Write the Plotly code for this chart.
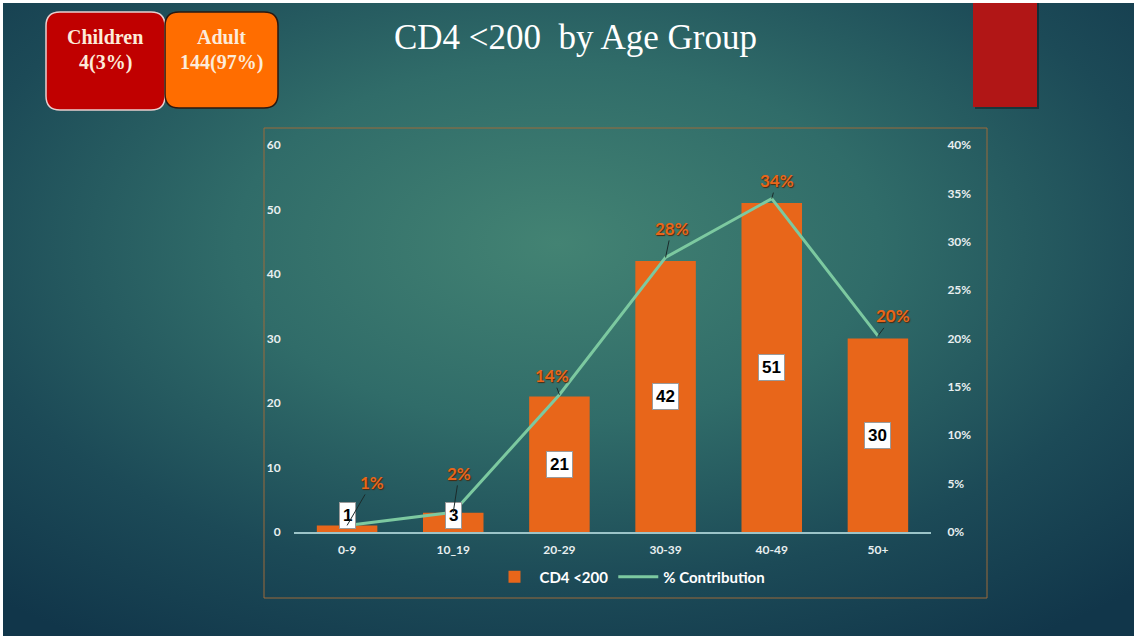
import base64
import plotly.graph_objects as go

# data
age_groups = ["0-9", "10_19", "20-29", "30-39", "40-49", "50+"]
cd4_counts = [1, 3, 21, 42, 51, 30]
pct_contribution = [0.0068, 0.0203, 0.1419, 0.2838, 0.3446, 0.2027]
pct_labels = ["1%", "2%", "14%", "28%", "34%", "20%"]
summary_titles = ["Children", "Adult"]
summary_values = ["4(3%)", "144(97%)"]

W, H = 1134, 639
BAR_COLOR = "#E8661A"
LINE_COLOR = "#7CC9A0"
TICK_FONT = dict(family="Lato", size=12, color="#E9EFF0", weight="bold")


def px(x):
    return x / W


def py(y):
    return 1 - y / H


def rounded_rect(x0, y0, x1, y1, r):
    # path in paper coords, built from pixel corners
    pts = [
        f"M {px(x0 + r)},{py(y0)}",
        f"L {px(x1 - r)},{py(y0)}",
        f"Q {px(x1)},{py(y0)} {px(x1)},{py(y0 + r)}",
        f"L {px(x1)},{py(y1 - r)}",
        f"Q {px(x1)},{py(y1)} {px(x1 - r)},{py(y1)}",
        f"L {px(x0 + r)},{py(y1)}",
        f"Q {px(x0)},{py(y1)} {px(x0)},{py(y1 - r)}",
        f"L {px(x0)},{py(y0 + r)}",
        f"Q {px(x0)},{py(y0)} {px(x0 + r)},{py(y0)}",
        "Z",
    ]
    return " ".join(pts)


# radial teal background as an svg image
bg_svg = f"""<svg xmlns='http://www.w3.org/2000/svg' width='{W}' height='{H}'>
<defs><radialGradient id='g' cx='0.49' cy='0.38' r='0.75'>
<stop offset='0' stop-color='#438373'/>
<stop offset='0.38' stop-color='#306C69'/>
<stop offset='0.72' stop-color='#1C4A57'/>
<stop offset='1' stop-color='#11364A'/>
</radialGradient></defs>
<rect width='{W}' height='{H}' fill='url(#g)'/>
</svg>"""
bg_uri = "data:image/svg+xml;base64," + base64.b64encode(bg_svg.encode()).decode()

fig = go.Figure()

fig.add_trace(go.Bar(
    x=age_groups, y=cd4_counts, name="CD4 <200",
    marker=dict(color=BAR_COLOR, line=dict(width=0)),
    hoverinfo="skip",
))
fig.add_trace(go.Scatter(
    x=age_groups, y=pct_contribution, name="% Contribution", yaxis="y2",
    mode="lines", line=dict(color=LINE_COLOR, width=3),
    hoverinfo="skip",
))

annotations = []

# count labels in white boxes
for g, v in zip(age_groups, cd4_counts):
    annotations.append(dict(
        x=g, y=max(v / 2, 2.6), xref="x", yref="y", text=f"<b>{v}</b>",
        showarrow=False, bgcolor="white", bordercolor="#9a9a9a", borderwidth=1,
        borderpad=3, font=dict(family="Liberation Sans", size=17, color="black"),
    ))

# percent labels with leader lines
offsets = [(25, -43), (6, -39), (-7, -19), (6, -29), (5, -18), (15, -20)]
for g, p, lab, (ax, ay) in zip(age_groups, pct_contribution, pct_labels, offsets):
    annotations.append(dict(
        x=g, y=p, xref="x", yref="y2", text=lab, showarrow=True,
        ax=ax, ay=ay, arrowhead=0, arrowwidth=1, arrowcolor="#1b2a2a", standoff=0,
        font=dict(family="Lato", size=17, color="#E8661A", weight="bold",
                  shadow="1px 1px 1px #4a2a10"),
    ))

# title
annotations.append(dict(
    x=px(575), y=py(38), xref="paper", yref="paper", xanchor="center", yanchor="middle",
    text="CD4 <200\u00a0\u00a0by Age Group", showarrow=False,
    font=dict(family="Liberation Serif", size=35, color="white"),
))

# summary boxes
box_cx = [105, 221]
for cx, t, v in zip(box_cx, summary_titles, summary_values):
    annotations.append(dict(
        x=px(cx), y=py(37), xref="paper", yref="paper", xanchor="center",
        yanchor="middle", text=f"<b>{t}</b>", showarrow=False,
        font=dict(family="Liberation Serif", size=20, color="#FCEBDA"),
    ))
    annotations.append(dict(
        x=px(cx), y=py(63), xref="paper", yref="paper", xanchor="center",
        yanchor="middle", text=f"<b>{v}</b>", showarrow=False,
        font=dict(family="Liberation Serif", size=20, color="#FCEBDA"),
    ))

shapes = [
    # chart frame
    dict(type="rect", xref="paper", yref="paper", x0=px(264), x1=px(987),
         y0=py(598), y1=py(128), line=dict(color="#9C6B3A", width=1), layer="below"),
    # red tab at top right (shadow then tab)
    dict(type="rect", xref="paper", yref="paper", x0=px(975), x1=px(1039),
         y0=py(109), y1=py(3), line=dict(width=0), fillcolor="rgba(0,0,0,0.35)"),
    dict(type="rect", xref="paper", yref="paper", x0=px(973), x1=px(1037),
         y0=py(107), y1=py(3), line=dict(width=0), fillcolor="#B11616"),
    # summary boxes
    dict(type="path", xref="paper", yref="paper", path=rounded_rect(46, 12, 165, 110, 14),
         fillcolor="#C00000", line=dict(color="#E9CFCF", width=1.5)),
    dict(type="path", xref="paper", yref="paper", path=rounded_rect(165, 12, 278, 108, 14),
         fillcolor="#FF6D00", line=dict(color="#2A1810", width=1.5)),
]

fig.update_layout(
    width=W, height=H,
    margin=dict(l=0, r=0, t=0, b=0),
    paper_bgcolor="white",
    plot_bgcolor="rgba(0,0,0,0)",
    template="none",
    bargap=0.43,
    showlegend=True,
    legend=dict(orientation="h", x=px(630), y=py(577), xanchor="center", yanchor="middle",
                font=dict(family="Lato", size=15, color="white", weight="bold"),
                bgcolor="rgba(0,0,0,0)", traceorder="normal", itemwidth=40),
    xaxis=dict(domain=[px(294), px(931)], range=[-0.5, 5.5], showgrid=False,
               zeroline=False, showline=True, linecolor="#9CC4C8", linewidth=1.5,
               ticks="outside", ticklen=6, tickcolor="rgba(0,0,0,0)",
               tickfont=TICK_FONT, automargin=False, fixedrange=True),
    yaxis=dict(domain=[py(532), py(145)], range=[0, 60], dtick=10, showgrid=False,
               zeroline=False, showline=False, ticks="outside", ticklen=10,
               tickcolor="rgba(0,0,0,0)", tickfont=TICK_FONT, automargin=False),
    yaxis2=dict(overlaying="y", side="right", range=[0, 0.4], dtick=0.05,
                tickformat=".0%", showgrid=False, zeroline=False, showline=False,
                ticks="outside", ticklen=13, tickcolor="rgba(0,0,0,0)",
                tickfont=TICK_FONT, automargin=False),
    images=[dict(source=bg_uri, xref="paper", yref="paper", x=px(3), y=py(3),
                 sizex=px(W - 3), sizey=(H - 6) / H, sizing="stretch",
                 xanchor="left", yanchor="top", layer="below")],
    annotations=annotations,
    shapes=shapes,
)

fig.write_html("out.html", config={"displayModeBar": False},
               post_script="document.body.style.margin='0';")
